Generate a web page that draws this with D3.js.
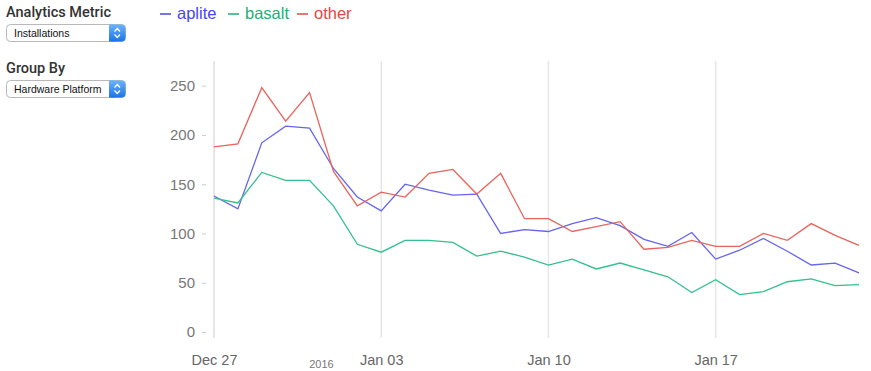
<!DOCTYPE html>
<html>
<head>
<meta charset="utf-8">
<script src="https://cdn.jsdelivr.net/npm/d3@7"></script>
<style>
  body { margin: 0; background: #fff; font-family: "Liberation Sans", Arial, sans-serif; }
  svg { display: block; }
</style>
</head>
<body>
<div id="chart"></div>
<script>
// days from Dec 27 2015 to Jan 23 2016
var startDate = new Date(2015, 11, 27);
var dates = d3.range(28).map(function(i) { return d3.timeDay.offset(startDate, i); });

var aplite = [138, 125, 192, 209, 207, 166, 137, 123, 150, 144, 139, 140, 100, 104, 102, 110, 116, 108, 94, 87, 101, 74, 83, 95, 82, 68, 70, 60];
var basalt = [136, 131, 162, 154, 154, 128, 89, 81, 93, 93, 91, 77, 82, 76, 68, 74, 64, 70, 63, 56, 40, 53, 38, 41, 51, 54, 47, 48];
var other  = [188, 191, 248, 214, 243, 163, 128, 142, 137, 161, 165, 140, 161, 115, 115, 102, 107, 112, 84, 86, 93, 87, 87, 100, 93, 110, 98, 88];

var seriesNames = ['aplite', 'basalt', 'other'];
var seriesData = [aplite, basalt, other];
var lineColors = ['#6464f0', '#33c08c', '#e8645c'];
var textColors = ['#4646ec', '#1fae78', '#e2483f'];
var yTicks = [0, 50, 100, 150, 200, 250];
var xTickDates = [new Date(2015, 11, 27), new Date(2016, 0, 3), new Date(2016, 0, 10), new Date(2016, 0, 17)];
var xTickLabels = ['Dec 27', 'Jan 03', 'Jan 10', 'Jan 17'];

var width = 871, height = 371;

var svg = d3.select('#chart').append('svg')
  .attr('width', width)
  .attr('height', height);

var x = d3.scaleTime()
  .domain([dates[0], dates[dates.length - 1]])
  .range([214, 859]);

var y = d3.scaleLinear()
  .domain([0, 250])
  .range([332, 85.7]);

var defs = svg.append('defs');
var grad = defs.append('linearGradient').attr('id', 'blueGrad')
  .attr('x1', 0).attr('y1', 0).attr('x2', 0).attr('y2', 1);
grad.append('stop').attr('offset', '0%').attr('stop-color', '#6cb3fa');
grad.append('stop').attr('offset', '100%').attr('stop-color', '#1a73e8');

// left controls
function control(label, value, top) {
  svg.append('text')
    .attr('x', 6).attr('y', top)
    .attr('font-family', 'Roboto, sans-serif')
    .attr('font-weight', 500)
    .attr('font-size', 14.5)
    .attr('fill', '#333')
    .text(label);
  var g = svg.append('g').attr('transform', 'translate(6,' + (top + 7) + ')');
  g.append('rect')
    .attr('x', 0.5).attr('y', 0.5)
    .attr('width', 119).attr('height', 17)
    .attr('rx', 4)
    .attr('fill', '#fff')
    .attr('stroke', '#b8b8b8');
  g.append('rect')
    .attr('x', 103).attr('y', 0.5)
    .attr('width', 16.5).attr('height', 17)
    .attr('rx', 4)
    .attr('fill', 'url(#blueGrad)');
  g.append('rect')
    .attr('x', 103).attr('y', 0.5)
    .attr('width', 5).attr('height', 17)
    .attr('fill', 'url(#blueGrad)');
  g.append('path')
    .attr('d', 'M108.5,7.5 L111.3,4.5 L114,7.5 M108.5,10.5 L111.3,13.5 L114,10.5')
    .attr('fill', 'none')
    .attr('stroke', '#fff')
    .attr('stroke-width', 1.3);
  g.append('text')
    .attr('x', 8).attr('y', 12.5)
    .attr('font-size', 10.5)
    .attr('fill', '#111')
    .text(value);
}

control('Analytics Metric', 'Installations', 17);
control('Group By', 'Hardware Platform', 73);

// legend
var legendX = [160, 228, 297];
seriesNames.forEach(function(name, i) {
  var g = svg.append('g').attr('transform', 'translate(' + legendX[i] + ',0)');
  g.append('line')
    .attr('x1', 0).attr('x2', 11)
    .attr('y1', 14).attr('y2', 14)
    .attr('stroke', textColors[i])
    .attr('stroke-width', 1.5);
  g.append('text')
    .attr('x', 17).attr('y', 19)
    .attr('font-size', 16.5)
    .attr('fill', textColors[i])
    .text(name);
});

// vertical gridlines
svg.selectAll('.grid')
  .data(xTickDates)
  .enter().append('line')
  .attr('x1', function(d) { return x(d); })
  .attr('x2', function(d) { return x(d); })
  .attr('y1', 61).attr('y2', 338)
  .attr('stroke', '#e6e6e6')
  .attr('stroke-width', function(d, i) { return i === 0 ? 2 : 1.5; });

// y axis
var yAxis = svg.append('g')
  .attr('transform', 'translate(206,0)')
  .call(d3.axisLeft(y).tickValues(yTicks).tickSize(4).tickPadding(7));
yAxis.select('.domain').remove();
yAxis.selectAll('line').attr('stroke', '#ccc');
yAxis.selectAll('text')
  .attr('font-family', '"Liberation Sans", Arial, sans-serif')
  .attr('font-size', 15)
  .attr('fill', '#777');

// x axis
var xAxis = svg.append('g')
  .attr('transform', 'translate(0,340)')
  .call(d3.axisBottom(x).tickValues(xTickDates).tickSize(0).tickPadding(15)
    .tickFormat(function(d, i) { return xTickLabels[i]; }));
xAxis.select('.domain').remove();
xAxis.selectAll('text')
  .attr('font-family', '"Liberation Sans", Arial, sans-serif')
  .attr('font-size', 14.5)
  .attr('fill', '#666');

svg.append('text')
  .attr('x', x(new Date(2015, 11, 31, 12)))
  .attr('y', 368)
  .attr('text-anchor', 'middle')
  .attr('font-size', 11)
  .attr('fill', '#777')
  .text('2016');

// lines
var line = d3.line()
  .x(function(d, i) { return x(dates[i]); })
  .y(function(d) { return y(d); });

svg.selectAll('.series')
  .data(seriesData)
  .enter().append('path')
  .attr('fill', 'none')
  .attr('stroke', function(d, i) { return lineColors[i]; })
  .attr('stroke-width', 1.3)
  .attr('d', line);
</script>
</body>
</html>
